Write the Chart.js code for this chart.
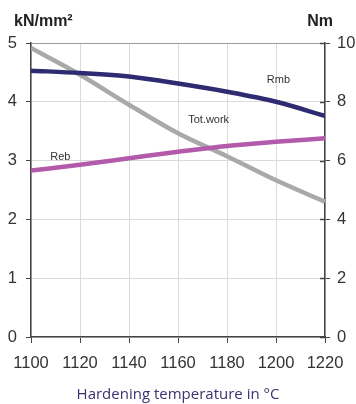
<!DOCTYPE html>
<html>
<head>
<meta charset="utf-8">
<script src="https://cdn.jsdelivr.net/npm/chart.js@4/dist/chart.umd.min.js"></script>
<style>
  html, body { margin: 0; padding: 0; background: #fff; }
  #wrap { width: 356px; height: 404px; position: relative; }
</style>
</head>
<body>
<div id="wrap"><canvas id="myChart"></canvas></div>
<script>
// hardening temperature (°C)
const temps = [1100, 1120, 1140, 1160, 1180, 1200, 1220];
// strength values, kN/mm² (left axis)
const rmb = [4.53, 4.49, 4.43, 4.31, 4.17, 4.00, 3.76];
const reb = [2.83, 2.93, 3.04, 3.15, 3.25, 3.32, 3.38];
// total work, Nm (right axis)
const totWork = [9.83, 8.92, 7.90, 6.93, 6.15, 5.33, 4.60];

// curve labels: [text, x, y, axis]
const curveLabels = [
  ['Rmb', 1201, 4.37, 'y'],
  ['Tot.work', 1172.5, 3.69, 'y'],
  ['Reb', 1112, 3.06, 'y']
];

const pts = (vals) => temps.map((t, i) => ({ x: t, y: vals[i] }));

const extras = {
  id: 'extras',
  afterDraw(chart) {
    const ctx = chart.ctx;
    const area = chart.chartArea;
    const { x, y, y2 } = chart.scales;
    ctx.save();
    // inward tick part on the right axis
    ctx.strokeStyle = '#444';
    ctx.lineWidth = 1.5;
    y2.ticks.forEach(t => {
      const py = Math.round(y2.getPixelForValue(t.value)) + 0.5;
      ctx.beginPath();
      ctx.moveTo(area.right - 5, py);
      ctx.lineTo(area.right, py);
      ctx.stroke();
    });
    // axis unit titles
    ctx.fillStyle = '#222';
    ctx.font = 'bold 16px "Liberation Sans", Arial, sans-serif';
    ctx.textBaseline = 'middle';
    ctx.textAlign = 'left';
    ctx.fillText('kN/mm²', 14, 22);
    ctx.textAlign = 'right';
    ctx.fillText('Nm', 333, 22);
    // curve labels
    ctx.font = '11px "Liberation Sans", Arial, sans-serif';
    ctx.fillStyle = '#333';
    ctx.textAlign = 'center';
    curveLabels.forEach(([txt, lx, ly, ax]) => {
      ctx.fillText(txt, x.getPixelForValue(lx), chart.scales[ax].getPixelForValue(ly));
    });
    ctx.restore();
  }
};

const tickFont = { family: '"Liberation Sans", Arial', size: 16.5 };

new Chart(document.getElementById('myChart'), {
  type: 'line',
  data: {
    datasets: [
      { label: 'Rmb', data: pts(rmb), yAxisID: 'y', borderColor: '#2e2b72', borderWidth: 4.5 },
      { label: 'Reb', data: pts(reb), yAxisID: 'y', borderColor: '#b35aab', borderWidth: 4.5 },
      { label: 'Tot.work', data: pts(totWork), yAxisID: 'y2', borderColor: '#a9a9aa', borderWidth: 4.5 }
    ]
  },
  options: {
    responsive: true,
    maintainAspectRatio: false,
    animation: false,
    events: [],
    elements: {
      point: { radius: 0 },
      line: { cubicInterpolationMode: 'monotone', borderCapStyle: 'butt' }
    },
    layout: { padding: { top: 43, left: 0, right: 0, bottom: 0 } },
    plugins: { legend: { display: false }, tooltip: { enabled: false } },
    scales: {
      x: {
        type: 'linear',
        min: 1100, max: 1220,
        afterFit: (s) => { s.height = 67; },
        ticks: { stepSize: 20, color: '#333', padding: 11, font: tickFont, callback: (v) => String(v) },
        grid: { color: '#dadada', tickColor: '#444', tickLength: 6, lineWidth: 1 },
        border: { color: '#444', width: 1.5 },
        title: {
          display: true,
          text: 'Hardening temperature in °C',
          color: '#3d3172',
          font: { family: '"Open Sans", "Noto Sans", sans-serif', size: 15 },
          padding: { top: 0, bottom: 0 }
        }
      },
      y: {
        position: 'left',
        min: 0, max: 5,
        afterFit: (s) => { s.width = 31; },
        ticks: { stepSize: 1, color: '#333', padding: 9, font: tickFont },
        grid: {
          color: (c) => c.tick && c.tick.value === 5 ? '#9a9a9a' : '#dadada',
          tickColor: '#444', tickLength: 5, lineWidth: 1
        },
        border: { color: '#444', width: 1.5 }
      },
      y2: {
        position: 'right',
        min: 0, max: 10,
        afterFit: (s) => { s.width = 31; },
        ticks: { stepSize: 2, color: '#333', padding: 7, font: tickFont },
        grid: { drawOnChartArea: false, tickColor: '#444', tickLength: 5 },
        border: { color: '#444', width: 1.5 }
      }
    }
  },
  plugins: [extras]
});
</script>
</body>
</html>
